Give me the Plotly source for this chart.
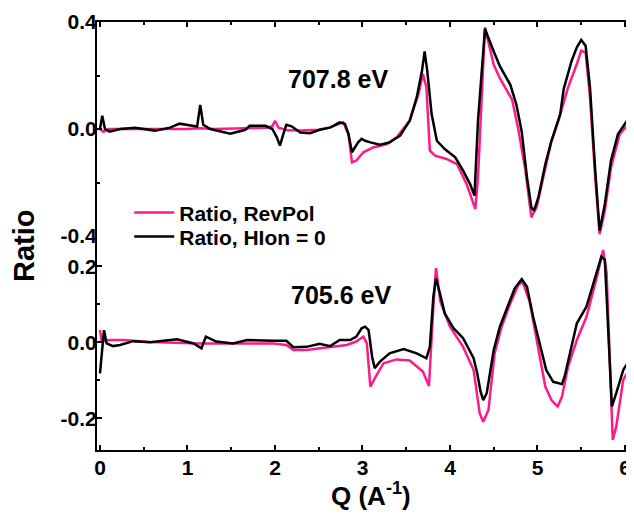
import plotly.graph_objects as go

# ---------------- data ----------------
# Top panel: 707.8 eV
top_q_revpol = [0, 0.04, 0.1, 0.5, 1.0, 1.14, 1.3, 1.9, 1.97, 2.0, 2.04, 2.15, 2.3, 2.5, 2.63, 2.78, 2.84,
                2.88, 2.93, 3.01, 3.12, 3.28, 3.39, 3.54, 3.64, 3.69, 3.73, 3.77, 3.83, 3.96, 4.08,
                4.19, 4.29, 4.32, 4.40, 4.50, 4.57, 4.71, 4.78, 4.86, 4.93, 4.99, 5.09, 5.16, 5.24,
                5.35, 5.45, 5.50, 5.55, 5.60, 5.66, 5.71, 5.77, 5.84, 5.94, 6.04, 6.1]
top_r_revpol = [0.0, -0.01, 0.0, 0.0, 0.0, 0.003, 0.0, 0.005, 0.01, 0.031, 0.005, -0.005, -0.006, -0.003,
                0.006, 0.025, -0.02, -0.125, -0.118, -0.087, -0.069, -0.056, -0.031, 0.031, 0.131,
                0.206, 0.156, -0.081, -0.1, -0.112, -0.131, -0.206, -0.299, -0.181, 0.38, 0.24,
                0.19, 0.11, 0.0, -0.15, -0.33, -0.293, -0.144, -0.044, 0.031, 0.156, 0.243, 0.293,
                0.286, 0.118, -0.181, -0.393, -0.305, -0.144, -0.019, 0.019, 0.05]

top_q_hion = [0, 0.026, 0.057, 0.11, 0.23, 0.4, 0.63, 0.8, 0.91, 1.06, 1.11, 1.146, 1.18, 1.26, 1.49,
              1.66, 1.71, 1.89, 1.97, 2.02, 2.057, 2.09, 2.13, 2.19, 2.29, 2.4, 2.51, 2.63, 2.74, 2.80,
              2.84, 2.88, 2.91, 2.95, 2.99, 3.03, 3.09, 3.2, 3.31, 3.43, 3.54, 3.62, 3.68, 3.71, 3.74,
              3.79, 3.85, 3.94, 4.06, 4.15, 4.23, 4.28, 4.32, 4.40, 4.50, 4.57, 4.69, 4.76, 4.82,
              4.88, 4.93, 4.96, 5.01, 5.09, 5.16, 5.26, 5.30, 5.39, 5.45, 5.50, 5.55, 5.60, 5.66,
              5.71, 5.77, 5.84, 5.92, 6.02, 6.1]
top_r_hion = [0.0, 0.05, 0.0, -0.01, 0.0, 0.005, -0.006, 0.005, 0.02, 0.012, 0.009, 0.09, 0.016, 0.0,
              -0.018, -0.003, 0.012, 0.012, 0.0, -0.03, -0.062, -0.025, 0.016, 0.01, -0.013, -0.016,
              -0.003, 0.005, 0.025, 0.019, -0.019, -0.087, -0.069, -0.05, -0.037, -0.044, -0.05,
              -0.059, -0.05, -0.025, 0.031, 0.118, 0.218, 0.29, 0.218, 0.056, -0.044, -0.075,
              -0.106, -0.156, -0.206, -0.249, 0.031, 0.374, 0.29, 0.235, 0.165, 0.09, -0.01,
              -0.181, -0.293, -0.305, -0.256, -0.131, -0.044, 0.056, 0.15, 0.255, 0.305, 0.333,
              0.311, 0.156, -0.156, -0.38, -0.28, -0.118, -0.019, 0.031, 0.068]

# Bottom panel: 705.6 eV
bot_q_revpol = [0, 0.02, 0.11, 0.27, 0.57, 1.14, 1.52, 1.98, 2.13, 2.21, 2.36, 2.51, 2.63, 2.82, 2.93,
                3.01, 3.05, 3.09, 3.14, 3.24, 3.39, 3.54, 3.69, 3.76, 3.81, 3.84, 3.89, 4.0, 4.15,
                4.27, 4.34, 4.38, 4.44, 4.51, 4.59, 4.69, 4.78, 4.83, 4.91, 5.01, 5.09, 5.16, 5.23,
                5.28, 5.35, 5.45, 5.56, 5.68, 5.75, 5.79, 5.83, 5.86, 5.90, 5.98, 6.1]
bot_r_revpol = [0.032, 0.002, 0.006, 0.006, 0.001, -0.003, -0.003, -0.003, -0.007, -0.02, -0.02, -0.016,
                -0.013, -0.007, 0.002, 0.015, -0.003, -0.117, -0.095, -0.055, -0.045, -0.048, -0.077,
                -0.115, 0.094, 0.195, 0.107, 0.041, -0.012, -0.073, -0.187, -0.209, -0.178, -0.029,
                0.041, 0.103, 0.151, 0.159, 0.107, -0.02, -0.117, -0.152, -0.169, -0.143, -0.064,
                0.006, 0.067, 0.173, 0.243, 0.182, -0.082, -0.257, -0.222, -0.099, -0.051]

bot_q_hion = [0, 0.046, 0.076, 0.15, 0.23, 0.38, 0.57, 0.88, 1.07, 1.16, 1.21, 1.33, 1.52, 1.68, 1.98,
              2.13, 2.21, 2.36, 2.51, 2.63, 2.74, 2.86, 2.93, 2.99, 3.03, 3.07, 3.11, 3.14, 3.2, 3.31,
              3.47, 3.62, 3.73, 3.77, 3.81, 3.84, 3.89, 3.94, 4.04, 4.15, 4.27, 4.31, 4.35, 4.38,
              4.42, 4.50, 4.57, 4.67, 4.74, 4.82, 4.88, 4.95, 5.03, 5.10, 5.18, 5.28, 5.31, 5.37,
              5.45, 5.56, 5.65, 5.73, 5.77, 5.81, 5.85, 5.90, 5.98, 6.1]
bot_r_hion = [-0.082, 0.032, -0.003, -0.01, -0.007, 0.003, 0.0, 0.008, -0.003, -0.016, 0.015, 0.002,
              -0.003, 0.006, 0.004, 0.004, -0.013, -0.012, -0.004, -0.01, 0.006, 0.006, 0.015, 0.037,
              0.041, 0.032, -0.038, -0.068, -0.051, -0.029, -0.018, -0.029, -0.042, -0.012, 0.12,
              0.168, 0.124, 0.076, 0.037, 0.011, -0.042, -0.08, -0.13, -0.152, -0.134, -0.02, 0.041,
              0.103, 0.142, 0.166, 0.146, 0.067, -0.012, -0.073, -0.104, -0.11, -0.09, -0.029, 0.05,
              0.094, 0.164, 0.225, 0.217, 0.041, -0.169, -0.134, -0.073, -0.029]

x_tickvals = [0, 1, 2, 3, 4, 5, 6]
x_ticktext = ["0", "1", "2", "3", "4", "5", "6"]
top_tickvals = [-0.4, 0.0, 0.4]
top_ticktext = ["-0.4", "0.0", "0.4"]
bot_tickvals = [-0.2, 0.0, 0.2]
bot_ticktext = ["-0.2", "0.0", "0.2"]

names = ["Ratio, RevPol", "Ratio, HIon = 0"]
labels = ["707.8 eV", "705.6 eV"]

PINK = "#FF1A8C"
BLACK = "#000000"
FONT = "Liberation Sans"

fig = go.Figure()
# bottom panel (carries the legend entries)
fig.add_trace(go.Scatter(x=bot_q_revpol, y=bot_r_revpol, mode="lines", name=names[0],
                         line=dict(color=PINK, width=2.5), xaxis="x", yaxis="y", showlegend=True,
                         legend="legend"))
fig.add_trace(go.Scatter(x=bot_q_hion, y=bot_r_hion, mode="lines", name=names[1],
                         line=dict(color=BLACK, width=2.5), xaxis="x", yaxis="y", showlegend=True,
                         legend="legend2"))
# top panel
fig.add_trace(go.Scatter(x=top_q_revpol, y=top_r_revpol, mode="lines", name=names[0],
                         line=dict(color=PINK, width=2.5), xaxis="x2", yaxis="y2", showlegend=False))
fig.add_trace(go.Scatter(x=top_q_hion, y=top_r_hion, mode="lines", name=names[1],
                         line=dict(color=BLACK, width=2.5), xaxis="x2", yaxis="y2", showlegend=False))

tickfont = dict(family=FONT, size=21, color="black", weight="bold")
xr = [-0.034, 6.103]

common_x = dict(range=xr, showline=True, linecolor="black", linewidth=2, showgrid=False,
                zeroline=False, ticks="inside", ticklen=5, tickwidth=2, tickcolor="black",
                tickvals=x_tickvals, ticktext=x_ticktext, tickfont=tickfont, automargin=False,
                ticklabelstandoff=-2,
                minor=dict(ticks="inside", ticklen=3, tickwidth=2, tickcolor="black", dtick=0.5, tick0=0,
                           showgrid=False))

common_y = dict(showline=True, linecolor="black", linewidth=2, showgrid=False, zeroline=False,
                ticks="inside", ticklen=5, tickwidth=2, tickcolor="black", tickfont=tickfont,
                automargin=False, ticklabelstandoff=-6)

legend_font = dict(family=FONT, size=21, color="black", weight="bold")

# The page adds an 8px body margin, so the figure is 8px smaller and margins are shifted.
fig.update_layout(
    width=626, height=512,
    margin=dict(l=89, r=0, t=14, b=70, autoexpand=False),
    plot_bgcolor="white", paper_bgcolor="white",
    font=dict(family=FONT, color="black"),
    xaxis=dict(**common_x, anchor="y", side="bottom", showticklabels=True),
    xaxis2=dict(**common_x, anchor="y2", side="top", showticklabels=False, matches="x"),
    yaxis=dict(**common_y, domain=[0, 0.5], range=[-0.2834, 0.2797], anchor="x",
               tickvals=bot_tickvals, ticktext=bot_ticktext,
               minor=dict(ticks="inside", ticklen=3, tickwidth=2, tickcolor="black",
                          tickvals=[-0.1, 0.1], showgrid=False)),
    yaxis2=dict(**common_y, domain=[0.5, 1], range=[-0.4, 0.4], anchor="x2",
                tickvals=top_tickvals, ticktext=top_ticktext,
                minor=dict(ticks="inside", ticklen=3, tickwidth=2, tickcolor="black",
                           tickvals=[-0.2, 0.2], showgrid=False)),
    legend=dict(x=0.06, y=0.554, xanchor="left", yanchor="middle", bgcolor="rgba(0,0,0,0)",
                font=legend_font, itemwidth=40),
    legend2=dict(x=0.06, y=0.498, xanchor="left", yanchor="middle", bgcolor="rgba(0,0,0,0)",
                 font=legend_font, itemwidth=40),
    showlegend=True,
    annotations=[
        dict(text=labels[0], xref="paper", yref="paper", x=0.449, y=0.867, showarrow=False,
             xanchor="center", yanchor="middle", font=dict(family=FONT, size=25, weight="bold")),
        dict(text=labels[1], xref="paper", yref="paper", x=0.454, y=0.362, showarrow=False,
             xanchor="center", yanchor="middle", font=dict(family=FONT, size=25, weight="bold")),
        dict(text="Ratio", xref="paper", yref="paper", x=-0.136, y=0.479, showarrow=False,
             textangle=-90, xanchor="center", yanchor="middle",
             font=dict(family=FONT, size=29, weight="bold")),
        dict(text="Q (A<sup>-1</sup>)", xref="paper", yref="paper", x=0.51, y=-0.105, showarrow=False,
             xanchor="center", yanchor="middle", font=dict(family=FONT, size=26, weight="bold")),
    ],
)

fig.write_html("out.html")
